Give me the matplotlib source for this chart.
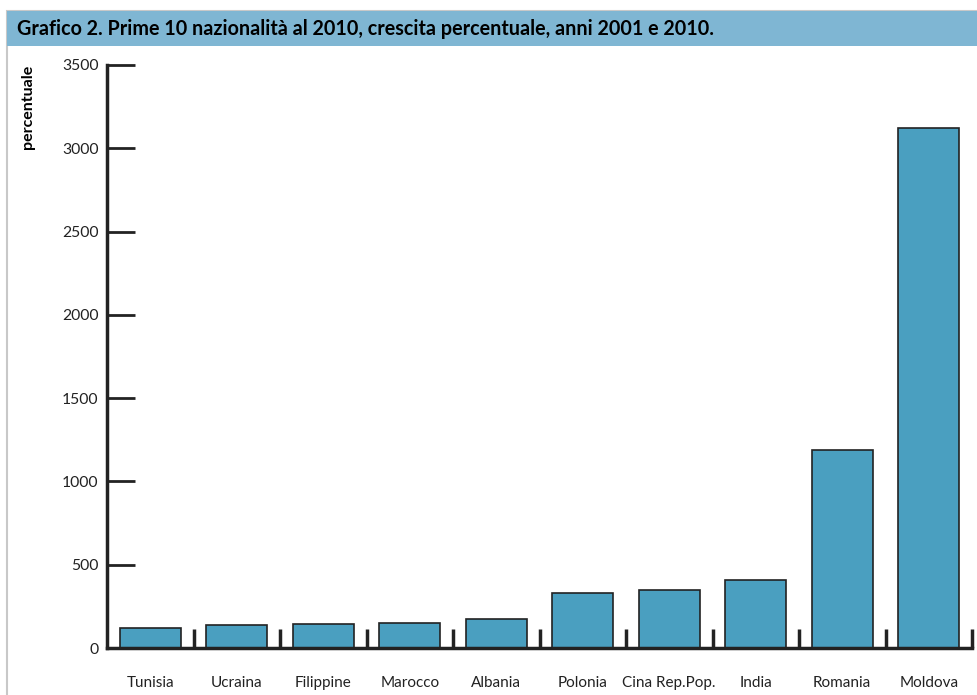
import numpy as np
import matplotlib.pyplot as plt
from matplotlib.patches import Rectangle

# Data
paesi = ['Tunisia', 'Ucraina', 'Filippine', 'Marocco', 'Albania',
         'Polonia', 'Cina Rep.Pop.', 'India', 'Romania', 'Moldova']
crescita = [122, 136, 146, 148, 174, 330, 348, 408, 1188, 3121]
y_ticks = [0, 500, 1000, 1500, 2000, 2500, 3000, 3500]

plt.rcParams['font.family'] = ['Lato', 'DejaVu Sans']

W, H = 977, 695
fig = plt.figure(figsize=(W / 100, H / 100), dpi=100)

# title band and frame (behind the axes)
fig.patches.append(Rectangle((7 / W, -0.01), 1, 1.01 - 11 / H, transform=fig.transFigure,
                             facecolor='white', edgecolor='#c8c8c8', linewidth=1.5, zorder=-2))
fig.patches.append(Rectangle((7 / W, 1 - 46 / H), 1, 35 / H, transform=fig.transFigure,
                             facecolor='#7fb6d3', edgecolor='none', zorder=-1))
fig.text(17 / W, 1 - 29 / H, 'Grafico 2. Prime 10 nazionalità al 2010, crescita percentuale, anni 2001 e 2010.',
         fontsize=14.2, fontweight='bold', va='center', ha='left')

ax = fig.add_axes([107 / W, 1 - 648 / H, (972 - 107) / W, (648 - 65) / H])
ax.patch.set_alpha(0)
x = np.arange(len(paesi))
ax.bar(x, crescita, width=0.7, color='#4a9fc0', edgecolor='#222222', linewidth=1.2, zorder=2)

ax.set_xlim(-0.5, len(paesi) - 0.5)
ax.set_ylim(0, 3500)
ax.set_yticks(y_ticks)
ax.set_xticks(x)
ax.set_xticklabels(paesi)
ax.set_xticks(np.arange(0.5, len(paesi), 1), minor=True)

for s in ['top', 'right']:
    ax.spines[s].set_visible(False)
for s in ['left', 'bottom']:
    ax.spines[s].set_linewidth(2.5)
    ax.spines[s].set_color('#222222')

ax.tick_params(axis='y', direction='in', length=20, width=2, color='#222222',
               labelsize=11.3, pad=6, labelcolor='#222222')
ax.tick_params(axis='x', which='major', length=0, pad=20, labelsize=11, labelcolor='#222222')
ax.tick_params(axis='x', which='minor', direction='in', length=14, width=2.5, color='#222222')

fig.text(28 / W, 1 - 65 / H, 'percentuale', rotation=90, fontsize=11.5, fontweight='bold',
         ha='center', va='top')

fig.savefig('out.png', dpi=100)
